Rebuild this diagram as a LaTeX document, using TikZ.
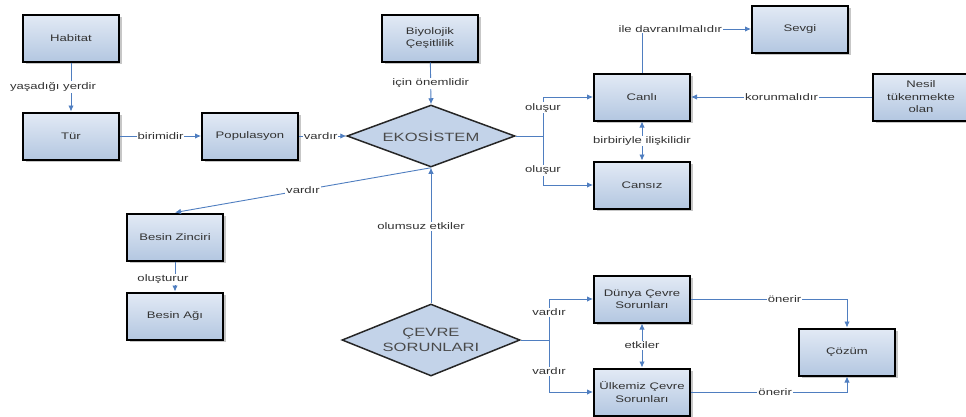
\documentclass[tikz,border=0pt]{standalone}
\usepackage{fontspec}
\setmainfont{Liberation Sans}[FakeStretch=1.38]
\usetikzlibrary{shapes.geometric,arrows.meta,shadows}
\definecolor{boxtop}{HTML}{E2EAF5}
\definecolor{boxbot}{HTML}{B3C7E1}
\definecolor{diafill}{HTML}{C3D3E9}
\definecolor{lineblue}{HTML}{4F7EC0}
\definecolor{txt}{HTML}{333333}
\definecolor{diatxt}{HTML}{4A4A4A}
\begin{document}
\begin{tikzpicture}[x=1pt,y=-1pt,
 box/.style={draw=black, line width=2pt, top color=boxtop, bottom color=boxbot,
   minimum width=96pt, minimum height=47pt, inner sep=1pt, align=center,
   font=\fontsize{9.5}{12.5}\selectfont, text=txt,
   drop shadow={shadow xshift=2.5pt, shadow yshift=-2.5pt, fill=black, opacity=0.22}},
 dia/.style={shape=diamond, draw=black!85, line width=1.5pt, fill=diafill, inner sep=0pt,
   align=center, font=\fontsize{12}{15}\selectfont, text=diatxt},
 conn/.style={draw=lineblue, line width=0.9pt, >={Latex[length=6pt,width=5.5pt]}},
 lbl/.style={fill=white, inner sep=1pt, font=\fontsize{9.5}{11}\selectfont, text=txt}
]
\useasboundingbox (0,0) rectangle (966,416);
% nodes
\node[box] (hab) at (71,38) {Habitat};
\node[box] (tur) at (71,136) {Tür};
\node[box] (pop) at (250,136) {Populasyon};
\node[box] (bio) at (430,38) {Biyolojik\\Çeşitlilik};
\node[dia, aspect=2.7, minimum width=168pt, minimum height=62pt] (eko) at (431,136) {EKOSİSTEM};
\node[box] (canli) at (642,97) {Canlı};
\node[box] (cansiz) at (642,185) {Cansız};
\node[box] (sevgi) at (800,29) {Sevgi};
\node[box] (nesil) at (921,97) {Nesil\\tükenmekte\\olan};
\node[box] (bz) at (175,237) {Besin Zinciri};
\node[box] (ba) at (175,316) {Besin Ağı};
\node[dia, aspect=2.47, minimum width=178pt, minimum height=72pt] (cevre) at (431,340) {ÇEVRE\\SORUNLARI};
\node[box] (dunya) at (642,299) {Dünya Çevre\\Sorunları};
\node[box] (ulk) at (642,392) {Ülkemiz Çevre\\Sorunları};
\node[box] (cozum) at (847,352) {Çözüm};
\coordinate (bus1) at (543,136);
\coordinate (bus2) at (549,340);
% connectors
\draw[conn,->] (hab) -- node[lbl, xshift=-18pt] {yaşadığı yerdir} (tur);
\draw[conn,->] (tur) -- node[lbl] {birimidir} (pop);
\draw[conn,->] (pop) -- node[lbl, xshift=-2pt] {vardır} (eko.west);
\draw[conn,->] (bio) -- node[lbl] {için önemlidir} (eko.north);
\draw[conn] (eko.east) -- (bus1);
\draw[conn,->] (bus1) |- node[lbl, pos=0.36] {oluşur} (canli.west);
\draw[conn,->] (bus1) |- node[lbl, pos=0.35] {oluşur} (cansiz.west);
\draw[conn,<->] (canli) -- node[lbl] {birbiriyle ilişkilidir} (cansiz);
\draw[conn,->] (canli.north) |- node[lbl, pos=0.63] {ile davranılmalıdır} (sevgi.west);
\draw[conn,->] (nesil) -- node[lbl] {korunmalıdır} (canli);
\draw[conn,->] (eko.south) -- node[lbl, pos=0.5] {vardır} (bz.north);
\draw[conn,->] (cevre.north) -- node[lbl, pos=0.57, xshift=-10pt] {olumsuz etkiler} (eko.south);
\draw[conn,->] (bz) -- node[lbl, xshift=-12pt, yshift=-3pt] {oluşturur} (ba);
\draw[conn] (cevre.east) -- (bus2);
\draw[conn,->] (bus2) |- node[lbl, pos=0.34] {vardır} (dunya.west);
\draw[conn,->] (bus2) |- node[lbl, pos=0.3] {vardır} (ulk.west);
\draw[conn,<->] (dunya) -- node[lbl] {etkiler} (ulk);
\draw[conn,->] (dunya.east) -| node[lbl, pos=0.3] {önerir} (cozum.north);
\draw[conn,->] (ulk.east) -| node[lbl, pos=0.27] {önerir} (cozum.south);
\end{tikzpicture}
\end{document}
